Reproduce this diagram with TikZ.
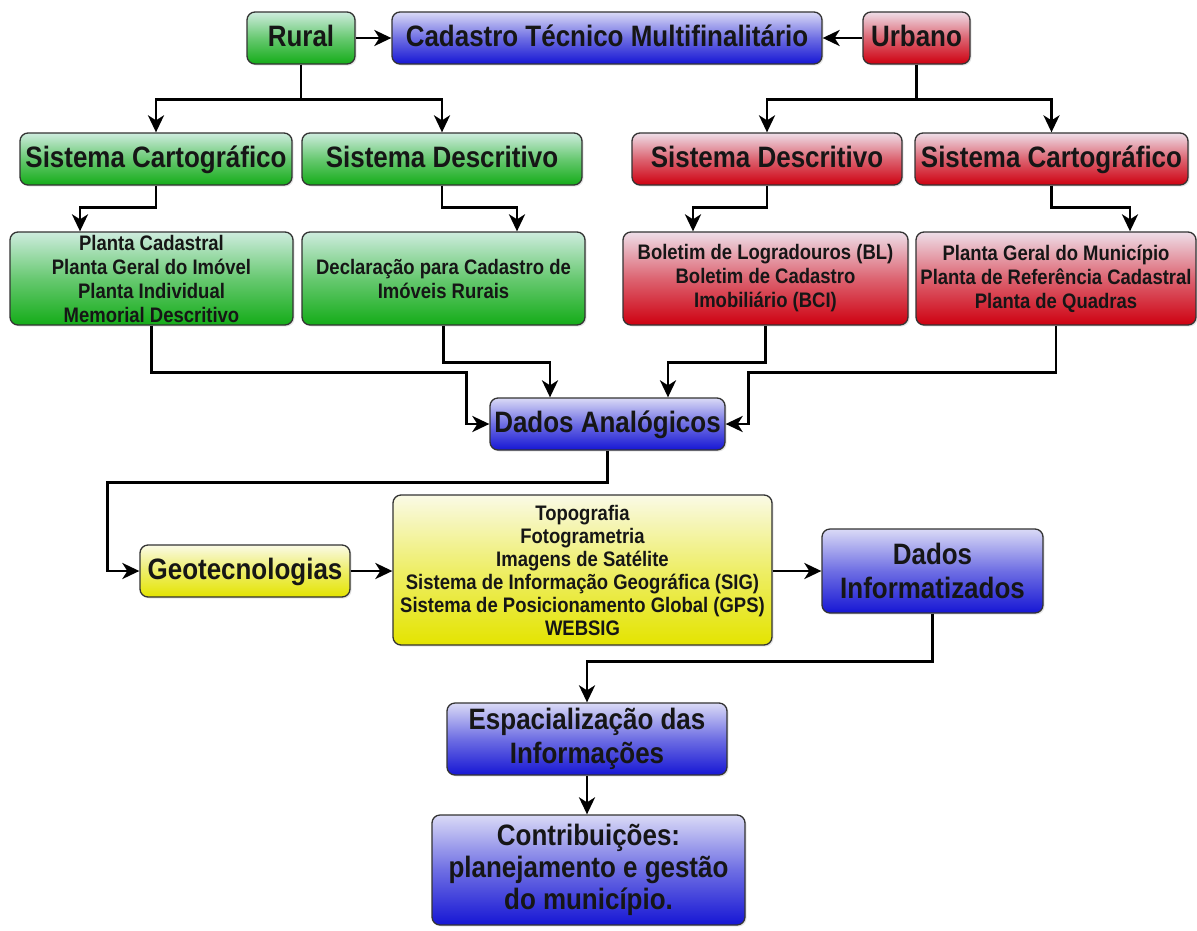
\documentclass[tikz,border=0pt]{standalone}
\usepackage{fontspec}
\setmainfont{Liberation Sans}[FakeStretch=0.88]
\usetikzlibrary{arrows.meta,shadows}
\definecolor{gtop}{RGB}{206,236,222}
\definecolor{gbot}{RGB}{20,172,24}
\definecolor{rtop}{RGB}{238,222,232}
\definecolor{rbot}{RGB}{206,0,16}
\definecolor{btop}{RGB}{218,218,246}
\definecolor{bbot}{RGB}{22,22,212}
\definecolor{ytop}{RGB}{250,250,230}
\definecolor{ybot}{RGB}{228,228,0}
\definecolor{txt}{RGB}{22,22,22}
\tikzset{
  box/.style={draw=black!80, line width=1.3pt, rounded corners=8pt, inner sep=0pt,
    align=center, text=txt, drop shadow={shadow xshift=1.5pt, shadow yshift=-1.5pt, opacity=0.2}},
  big/.style={font=\bfseries\fontsize{29.5}{34}\selectfont},
  one/.style={big, text height=21pt, text depth=5pt},
  small/.style={font=\bfseries\fontsize{21}{24}\selectfont},
  gbox/.style={box, top color=gtop, bottom color=gbot, middle color=gbot!55!gtop},
  rbox/.style={box, top color=rtop, bottom color=rbot, middle color=rbot!55!rtop},
  bbox/.style={box, top color=btop, bottom color=bbot, middle color=bbot!55!btop},
  ybox/.style={box, top color=ytop, bottom color=ybot, middle color=ybot!55!ytop},
  arr/.style={draw=black, line width=2.8pt, -{Stealth[length=17pt,width=16pt,inset=5pt]}},
}
\begin{document}
\begin{tikzpicture}[x=1pt,y=-1pt]
\useasboundingbox (0,0) rectangle (1197,930);
% row 1
\node[gbox,one,minimum width=108,minimum height=52] (rural) at (301,38) {Rural};
\node[bbox,one,minimum width=430,minimum height=52] (ctm) at (607,38) {Cadastro Técnico Multifinalitário};
\node[rbox,one,minimum width=107,minimum height=52] (urbano) at (916.5,38) {Urbano};
% row 2
\node[gbox,one,minimum width=272,minimum height=52] (gcart) at (156,159) {Sistema Cartográfico};
\node[gbox,one,minimum width=280,minimum height=52] (gdesc) at (442,159) {Sistema Descritivo};
\node[rbox,one,minimum width=270,minimum height=52] (rdesc) at (767,159) {Sistema Descritivo};
\node[rbox,one,minimum width=273,minimum height=52] (rcart) at (1051.5,159) {Sistema Cartográfico};
% row 3
\node[gbox,small,minimum width=283,minimum height=93] (gplanta) at (151.5,278.5) {Planta Cadastral\\Planta Geral do Imóvel\\Planta Individual\\Memorial Descritivo};
\node[gbox,small,minimum width=283,minimum height=93] (gdecl) at (443.5,278.5) {Declaração para Cadastro de\\Imóveis Rurais};
\node[rbox,small,minimum width=285,minimum height=93] (rbol) at (765.5,278.5) {Boletim de Logradouros (BL)\\Boletim de Cadastro\\Imobiliário (BCI)};
\node[rbox,small,minimum width=280,minimum height=93] (rplanta) at (1056,278.5) {Planta Geral do Município\\Planta de Referência Cadastral\\Planta de Quadras};
% middle
\node[bbox,one,minimum width=235,minimum height=52] (dana) at (607.5,424) {Dados Analógicos};
\node[ybox,one,minimum width=210,minimum height=52] (geo) at (245,571) {Geotecnologias};
\node[ybox,font=\bfseries\fontsize{21}{23}\selectfont,minimum width=379,minimum height=150] (topo) at (582.5,570) {Topografia\\Fotogrametria\\Imagens de Satélite\\Sistema de Informação Geográfica (SIG)\\Sistema de Posicionamento Global (GPS)\\WEBSIG};
\node[bbox,big,minimum width=221,minimum height=84] (dinf) at (932.5,571) {Dados\\Informatizados};
\node[bbox,big,minimum width=280,minimum height=72] (esp) at (587,739) {Espacialização das\\Informações};
\node[bbox,font=\bfseries\fontsize{29.5}{32}\selectfont,minimum width=313,minimum height=110] (contrib) at (588.5,870) {Contribuições:\\planejamento e gestão\\do município.};
% connectors row 1
\draw[arr] (rural.east) -- (ctm.west);
\draw[arr] (urbano.west) -- (ctm.east);
\draw[arr] (rural.south) -- ++(0,35) -| (gcart.north);
\draw[arr] (rural.south) -- ++(0,35) -| (gdesc.north);
\draw[arr] (urbano.south) -- ++(0,35) -| (rdesc.north);
\draw[arr] (urbano.south) -- ++(0,35) -| (rcart.north);
% row 2 -> row 3
\draw[arr] (gcart.south) -- ++(0,22) -| ([xshift=-71.5pt]gplanta.north);
\draw[arr] (gdesc.south) -- ++(0,22) -| ([xshift=73.5pt]gdecl.north);
\draw[arr] (rdesc.south) -- ++(0,22) -| ([xshift=-72.5pt]rbol.north);
\draw[arr] (rcart.south) -- ++(0,22) -| ([xshift=74pt]rplanta.north);
% row 3 -> dados analogicos
\draw[arr] (gplanta.south) -- ++(0,47) -| ([xshift=-23pt]dana.west) -- (dana.west);
\draw[arr] (gdecl.south) -- ++(0,37) -| ([xshift=-57.5pt]dana.north);
\draw[arr] (rbol.south) -- ++(0,37) -| ([xshift=60.5pt]dana.north);
\draw[arr] (rplanta.south) -- ++(0,47) -| ([xshift=23pt]dana.east) -- (dana.east);
% lower flow
\draw[arr] (dana.south) -- ++(0,32) -| ([xshift=-32pt]geo.west) -- (geo.west);
\draw[arr] (geo.east) -- (geo.east -| topo.west);
\draw[arr] (dinf.west -| topo.east) -- (dinf.west);
\draw[arr] (dinf.south) -- ++(0,48) -| (esp.north);
\draw[arr] (esp.south) -- (esp.south |- contrib.north);
\end{tikzpicture}
\end{document}
